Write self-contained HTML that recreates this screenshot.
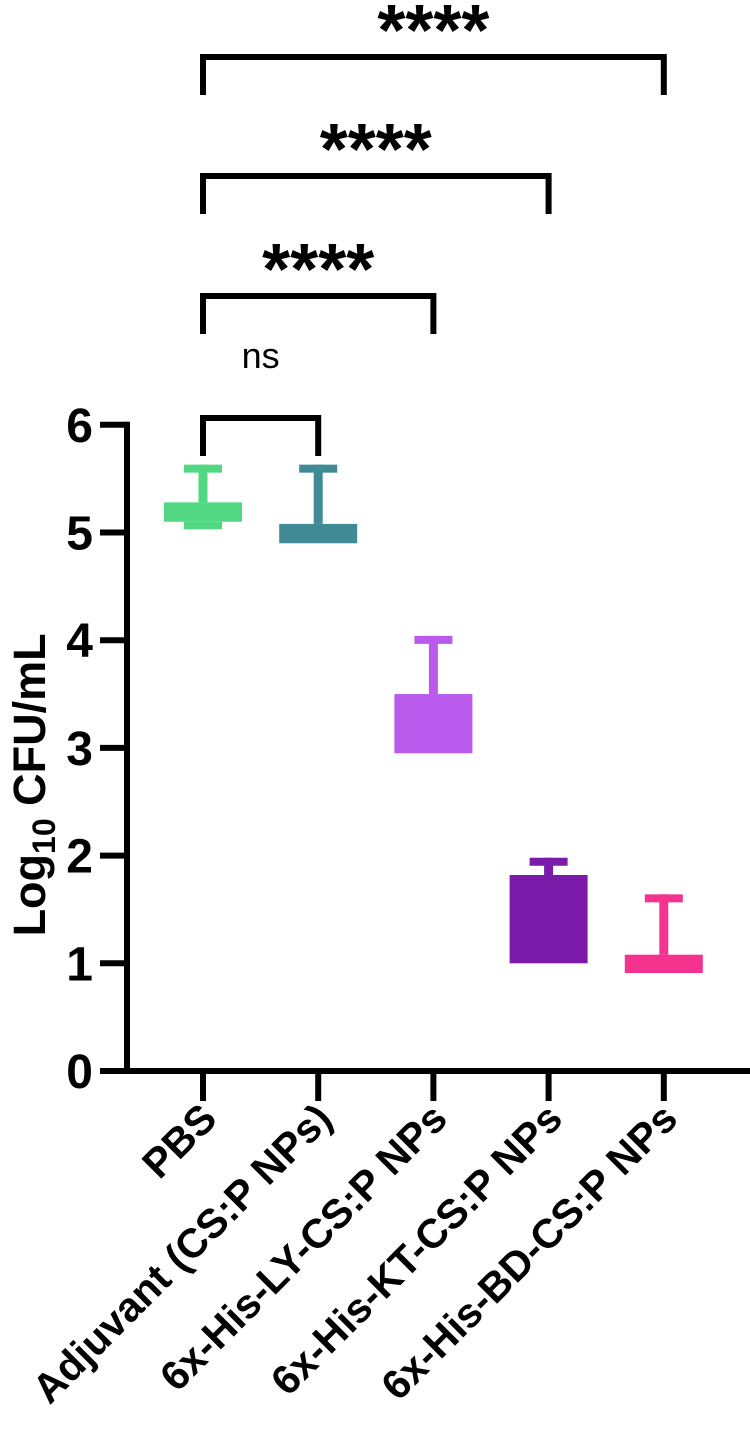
<!DOCTYPE html>
<html><head><meta charset="utf-8"><style>
html,body{margin:0;padding:0;background:#fff;}
svg{display:block;font-family:"Liberation Sans",Arial,sans-serif;font-weight:bold;}
</style></head><body>
<svg id="chart" width="750" height="1439" viewBox="0 0 750 1439">
<g id="plot"></g>
</svg>
<script>
const categories=["PBS","Adjuvant (CS:P NPs)","6x-His-LY-CS:P NPs","6x-His-KT-CS:P NPs","6x-His-BD-CS:P NPs"];
const boxLow=[5.10,4.90,2.95,1.00,0.91];
const boxHigh=[5.28,5.08,3.50,1.82,1.08];
const whiskerTop=[5.63,5.63,4.04,1.98,1.64];
const whiskerBottom=[5.03,4.90,2.95,1.00,0.91];
const colors=["#52d882","#3f8a95","#b95aed","#7a1aa8","#f5328e"];
const yTicks=[0,1,2,3,4,5,6];
const sigLabels=["ns","****","****","****"];
const sigTargets=[1,2,3,4];
const sigLevels=[0,1,2,3];

const NS="http://www.w3.org/2000/svg";
const g=document.getElementById('plot');
const y0=1071,yUnit=107.7,x0=203,xStep=115.2,axisX=127;
function ys(v){return y0-v*yUnit;}
function xs(i){return x0+i*xStep;}
function mk(tag,attrs,parent){const e=document.createElementNS(NS,tag);for(const k in attrs)e.setAttribute(k,attrs[k]);(parent||g).appendChild(e);return e;}

categories.forEach((c,i)=>{
  const grp=mk('g',{});
  
  
  const cx=xs(i);
  mk('rect',{x:cx-19,y:ys(whiskerTop[i]),width:38,height:8,fill:colors[i]},grp);
  mk('rect',{x:cx-4.5,y:ys(whiskerTop[i]),width:9,height:ys(boxHigh[i])-ys(whiskerTop[i]),fill:colors[i]},grp);
  mk('rect',{x:cx-19,y:ys(boxLow[i]),width:38,height:Math.max(0,ys(whiskerBottom[i])-ys(boxLow[i])),fill:colors[i]},grp);
  mk('rect',{x:cx-39,y:ys(boxHigh[i]),width:78,height:ys(boxLow[i])-ys(boxHigh[i]),fill:colors[i]},grp);
});

const ya=mk('line',{x1:axisX,y1:ys(6)-3,x2:axisX,y2:y0+3,stroke:'#000','stroke-width':6});


const xa=mk('line',{x1:axisX-27,y1:y0,x2:750,y2:y0,stroke:'#000','stroke-width':6});


yTicks.forEach(t=>{
  mk('line',{x1:axisX-27,y1:ys(t),x2:axisX,y2:ys(t),stroke:'#000','stroke-width':6});
  const tx=mk('text',{x:axisX-34,y:ys(t)+17,'text-anchor':'end','font-size':48,fill:'#000'});
  tx.textContent=t;
  
  
});
categories.forEach((c,i)=>{
  mk('line',{x1:xs(i),y1:y0,x2:xs(i),y2:y0+30,stroke:'#000','stroke-width':6});
  const ax=xs(i)+16, ay=y0+50;
  const tx=mk('text',{x:ax,y:ay,'text-anchor':'end','font-size':41,fill:'#000',transform:`rotate(-45 ${ax} ${ay})`});
  tx.textContent=c;
  
  
});
const yt=mk('text',{x:0,y:0,'text-anchor':'middle','font-size':45,fill:'#000',transform:`translate(45 ${ys(3)+37}) rotate(-90)`});
yt.innerHTML='Log<tspan font-size="32" dy="10">10</tspan><tspan dy="-10"> CFU/mL</tspan>';



const bracketTops=[418,296,176,57];
sigTargets.forEach((t,k)=>{
  const top=bracketTops[sigLevels[k]];
  const grp=mk('g',{});
  
  
  mk('polyline',{points:`${xs(0)},${top+38} ${xs(0)},${top} ${xs(t)},${top} ${xs(t)},${top+38}`,fill:'none',stroke:'#000','stroke-width':6},grp);
  const isNs=sigLabels[k]==='ns';
  const tx=mk('text',{x:(xs(0)+xs(t))/2,y:isNs?top-50:top-2,'text-anchor':'middle','font-size':isNs?36:72,'font-weight':isNs?'normal':'bold',fill:'#000'},grp);
  tx.textContent=sigLabels[k];
});
</script>
</body></html>
